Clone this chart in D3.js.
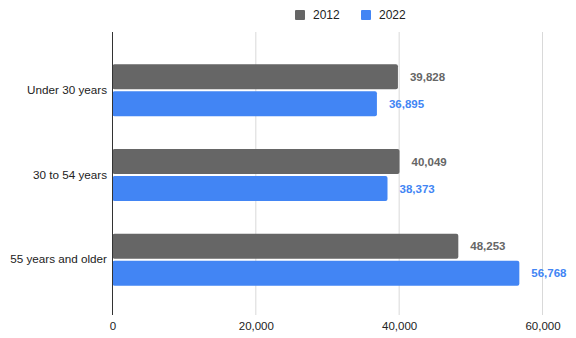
<!DOCTYPE html>
<html><head><meta charset="utf-8">
<script src="https://cdn.jsdelivr.net/npm/d3@7"></script>
<style>body{margin:0;background:#fff}svg{display:block;font-family:Arial,"Liberation Sans",sans-serif}</style>
</head><body><svg id="c" width="576" height="338"></svg>
<script>
const categories = ["Under 30 years", "30 to 54 years", "55 years and older"];
const seriesNames = ["2012", "2022"];
const values2012 = [39828, 40049, 48253];
const values2022 = [36895, 38373, 56768];
const xTicks = [0, 20000, 40000, 60000];
const colors = ["#666666", "#4285F4"];
const labelColors = ["#666666", "#4285F4"];

const svg = d3.select("#c");
const x = d3.scaleLinear().domain([0, 60000]).range([112.5, 542.5]);
const y = d3.scaleBand().domain(categories).range([48, 302]).padding(0);
const plotTop = 32, plotBottom = 315;

// gridlines
svg.append("g").selectAll("line").data(xTicks.slice(1)).join("line")
  .attr("x1", d => x(d)).attr("x2", d => x(d)).attr("y1", plotTop).attr("y2", plotBottom)
  .attr("stroke", "#d9d9d9").attr("stroke-width", 1);

// x axis labels
const xAxis = d3.axisBottom(x).tickValues(xTicks).tickSize(0).tickPadding(0)
  .tickFormat(d3.format(","));
const gx = svg.append("g").attr("transform", `translate(0,${plotBottom + 7})`).call(xAxis);
gx.select(".domain").remove();
gx.selectAll("text").attr("font-size", 11.5).attr("fill", "#222").attr("font-family", "Arial,'Liberation Sans',sans-serif");

// y axis labels
const yAxis = d3.axisLeft(y).tickSize(0).tickPadding(0);
const gy = svg.append("g").attr("transform", `translate(107,0)`).call(yAxis);
gy.select(".domain").remove();
gy.selectAll("text").attr("font-size", 11.7).attr("fill", "#222").attr("font-family", "Arial,'Liberation Sans',sans-serif");

const bh = 25, gap = 1;
const series = [values2012, values2022];
series.forEach((vals, si) => {
  const g = svg.append("g");
  const yOff = si === 0 ? -gap - bh : gap;
  g.selectAll("rect").data(vals).join("rect")
    .attr("x", x(0)).attr("y", (d, i) => y(categories[i]) + y.bandwidth() / 2 + yOff)
    .attr("width", d => x(d) - x(0)).attr("height", bh)
    .attr("rx", 2).attr("fill", colors[si]);
  g.selectAll("text").data(vals).join("text")
    .attr("x", d => x(d) + 12)
    .attr("y", (d, i) => y(categories[i]) + y.bandwidth() / 2 + yOff + bh / 2)
    .attr("dy", "0.35em").attr("font-size", 11.5).attr("font-weight", "bold")
    .attr("fill", labelColors[si]).text(d => d3.format(",")(d));
});

// axis line at zero
svg.append("line").attr("x1", x(0)).attr("x2", x(0)).attr("y1", plotTop).attr("y2", plotBottom)
  .attr("stroke", "#333").attr("stroke-width", 1);

// legend
const legX = [295, 361];
const leg = svg.append("g");
seriesNames.forEach((n, i) => {
  leg.append("rect").attr("x", legX[i]).attr("y", 10).attr("width", 10).attr("height", 10).attr("rx", 1).attr("fill", colors[i]);
  leg.append("text").attr("x", legX[i] + 18).attr("y", 15).attr("dy", "0.35em")
    .attr("font-size", 12).attr("fill", "#222").text(n);
});
</script></body></html>
